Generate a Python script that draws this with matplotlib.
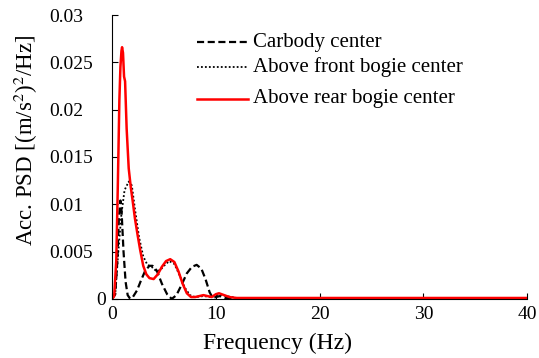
import numpy as np
import matplotlib
matplotlib.use('Agg')
import matplotlib.pyplot as plt
from matplotlib.lines import Line2D
import matplotlib.transforms as mtrans

plt.rcParams['font.family'] = ['Liberation Serif', 'DejaVu Serif']
plt.rcParams['mathtext.fontset'] = 'stix'

#--carbody center (dashed)
f_car = [0, 0.3, 0.5, 0.65, 0.8, 0.9, 1.1, 1.3, 1.5, 1.75, 2.0, 2.4, 2.8, 3.2, 3.6, 3.9,
         4.3, 4.8, 5.3, 5.75, 6.2, 6.7, 7.2, 7.7, 8.15, 8.6, 9.0, 9.4, 9.7, 10.0, 10.4,
         10.9, 12, 40]
p_car = [0, 0.0005, 0.004, 0.0085, 0.0104, 0.0095, 0.005, 0.0018, 0.0004, 0.0, 0.0002,
         0.0009, 0.002, 0.003, 0.0035, 0.0035, 0.003, 0.0016, 0.0005, 0.0, 0.0004, 0.0015,
         0.0027, 0.0034, 0.0036, 0.0032, 0.0021, 0.0007, 0.0001, 0.0002, 0.0003, 0.0001,
         0.00005, 0.00005]

#--above front bogie center (dotted)
f_front = [0, 0.3, 0.6, 0.9, 1.2, 1.6, 1.9, 2.2, 2.6, 3.0, 3.4, 3.8, 4.2, 4.6, 5.0, 5.5,
           6.0, 6.5, 7.0, 7.5, 8.0, 8.8, 9.6, 10.3, 11, 12, 40]
p_front = [0, 0.0005, 0.005, 0.009, 0.0115, 0.0124, 0.012, 0.0095, 0.0065, 0.0045, 0.0036,
           0.0034, 0.003, 0.003, 0.0035, 0.004, 0.0037, 0.0025, 0.0012, 0.0004, 0.0002,
           0.0003, 0.0002, 0.0005, 0.0003, 0.0001, 0.0001]

#--above rear bogie center (red)
f_rear = [0, 0.2, 0.4, 0.55, 0.7, 0.8, 0.9, 0.96, 1.05, 1.15, 1.25, 1.4, 1.6, 1.8, 2.0,
          2.2, 2.45, 2.7, 3.0, 3.3, 3.6, 4.0, 4.4, 4.8, 5.2, 5.6, 6.0, 6.4, 6.8, 7.2, 7.6,
          8.0, 8.4, 8.8, 9.2, 9.6, 10.0, 10.3, 10.8, 11.3, 12, 20, 30, 40]
p_rear = [0, 0.0003, 0.004, 0.012, 0.021, 0.0245, 0.0262, 0.0266, 0.026, 0.0235, 0.023,
          0.018, 0.0138, 0.0118, 0.0102, 0.0085, 0.0068, 0.0052, 0.0035, 0.0026, 0.0022,
          0.0021, 0.0026, 0.0034, 0.004, 0.0042, 0.0039, 0.0029, 0.0016, 0.0006, 0.0002,
          0.0002, 0.0003, 0.0004, 0.0003, 0.0002, 0.0005, 0.0006, 0.0004, 0.0002, 0.0001,
          0.0001, 0.0001, 0.0001]

labels = ['Carbody center', 'Above front bogie center', 'Above rear bogie center']
yticks = [0, 0.005, 0.01, 0.015, 0.02, 0.025, 0.03]
ytick_labels = ['0', '0.005', '0.01', '0.015', '0.02', '0.025', '0.03']

fig = plt.figure(figsize=(5.39, 3.58), dpi=100)
ax = fig.add_axes([0.208, 0.165, 0.770, 0.793])

ax.plot(f_car, p_car, color='k', ls=(0, (3.2, 1.6)), lw=1.6)
ax.plot(f_front, p_front, color='k', ls=(0, (1, 1.2)), lw=1.3)
ax.plot(f_rear, p_rear, color='red', lw=1.8)

ax.set_xlim(0, 40)
ax.set_ylim(0, 0.03)
ax.set_xticks([0, 10, 20, 30, 40])
ax.set_yticks(yticks)
ax.set_yticklabels(ytick_labels)
ax.tick_params(axis='both', direction='in', length=4, labelsize=14)
ax.tick_params(axis='x', pad=5)
ax.tick_params(axis='y', pad=45)
for t in ax.get_yticklabels():
    t.set_horizontalalignment('left')
#--the zero label sits next to the axis
z = ax.get_yticklabels()[0]
z.set_transform(z.get_transform() + mtrans.ScaledTranslation(0.47, 0, fig.dpi_scale_trans))

ax.spines['top'].set_visible(False)
ax.spines['right'].set_visible(False)
ax.set_xlabel('Frequency (Hz)', size=17)
ax.set_ylabel(r'Acc. PSD [(m/s$^2$)$^2$/Hz]', size=16.5)
ax.xaxis.set_label_coords(0.398, -0.155)
ax.xaxis.label.set_va('center')
ax.yaxis.set_label_coords(-0.207, 0.56)
ax.yaxis.label.set_va('center')

#--legend drawn by hand (uneven spacing as in the original)
ys = [0.905, 0.817, 0.705]
styles = [dict(color='k', ls=(0, (3.2, 1.6)), lw=1.6),
          dict(color='k', ls=(0, (1, 1.2)), lw=1.3),
          dict(color='red', lw=1.8)]
for y, lab, st in zip(ys, labels, styles):
    ax.add_line(Line2D([0.205, 0.328], [y, y], transform=ax.transAxes, **st))
    ax.text(0.340, y, lab, transform=ax.transAxes, va='center', ha='left', size=15)

fig.savefig('out.png', dpi=100)
